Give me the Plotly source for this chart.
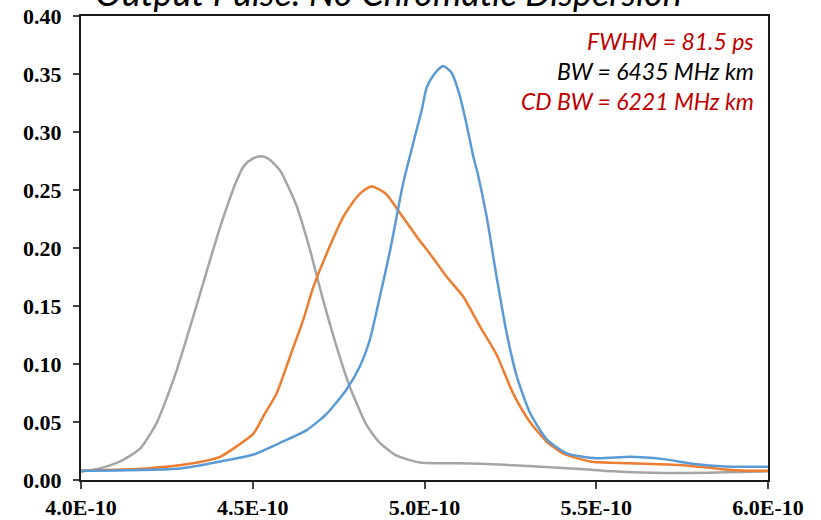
import plotly.graph_objects as go

# time in units of 1e-10 s
gray_t = [4.000, 4.055, 4.114, 4.172, 4.220, 4.250, 4.279, 4.327, 4.356, 4.405, 4.453, 4.475, 4.500, 4.521,
          4.545, 4.579, 4.628, 4.667, 4.705, 4.744, 4.783, 4.832, 4.870, 4.919, 4.987, 5.050, 5.162,
          5.300, 5.453, 5.550, 5.695, 5.850, 6.000]
gray_v = [0.007, 0.010, 0.016, 0.027, 0.049, 0.071, 0.095, 0.141, 0.170, 0.218, 0.258, 0.271, 0.277, 0.279,
          0.277, 0.267, 0.236, 0.198, 0.155, 0.115, 0.080, 0.047, 0.032, 0.021, 0.015, 0.0145, 0.014,
          0.012, 0.0095, 0.0075, 0.006, 0.0065, 0.0075]

orange_t = [4.000, 4.191, 4.317, 4.405, 4.453, 4.502, 4.531, 4.570, 4.608, 4.647, 4.676, 4.715, 4.764,
            4.803, 4.825, 4.845, 4.865, 4.890, 4.929, 4.977, 5.026, 5.065, 5.113, 5.162, 5.210, 5.259,
            5.307, 5.356, 5.404, 5.482, 5.598, 5.744, 5.860, 5.938, 6.000]
orange_v = [0.008, 0.010, 0.014, 0.020, 0.029, 0.040, 0.055, 0.075, 0.106, 0.138, 0.166, 0.195, 0.227,
            0.244, 0.250, 0.253, 0.251, 0.246, 0.230, 0.210, 0.191, 0.175, 0.158, 0.132, 0.108, 0.074,
            0.050, 0.033, 0.023, 0.016, 0.0145, 0.013, 0.0095, 0.008, 0.008]

blue_t = [4.000, 4.288, 4.405, 4.502, 4.579, 4.657, 4.715, 4.773, 4.812, 4.841, 4.870, 4.900, 4.938,
          4.972, 4.992, 5.006, 5.026, 5.054, 5.079, 5.098, 5.113, 5.128, 5.142, 5.155, 5.181, 5.210,
          5.239, 5.268, 5.307, 5.356, 5.414, 5.501, 5.598, 5.695, 5.792, 5.890, 6.000]
blue_v = [0.008, 0.010, 0.016, 0.022, 0.032, 0.043, 0.057, 0.078, 0.098, 0.121, 0.158, 0.198, 0.256,
          0.296, 0.319, 0.338, 0.349, 0.357, 0.351, 0.336, 0.319, 0.299, 0.279, 0.264, 0.227, 0.175,
          0.127, 0.090, 0.058, 0.035, 0.023, 0.0187, 0.020, 0.018, 0.0135, 0.0115, 0.0115]

x_ticks = [4.0e-10, 4.5e-10, 5.0e-10, 5.5e-10, 6.0e-10]
x_labels = ["4.0E-10", "4.5E-10", "5.0E-10", "5.5E-10", "6.0E-10"]
y_ticks = [0.00, 0.05, 0.10, 0.15, 0.20, 0.25, 0.30, 0.35, 0.40]
y_labels = ["0.00", "0.05", "0.10", "0.15", "0.20", "0.25", "0.30", "0.35", "0.40"]

title_text = "Output Pulse: No Chromatic Dispersion"
notes = [("FWHM = 81.5 ps", "#C00000"), ("BW = 6435 MHz km", "#000000"), ("CD BW = 6221 MHz km", "#C00000")]

fig = go.Figure()
for t, v, c in [(gray_t, gray_v, "#A5A5A5"), (orange_t, orange_v, "#ED7D31"), (blue_t, blue_v, "#5B9BD5")]:
    fig.add_trace(go.Scatter(x=[a * 1e-10 for a in t], y=v, mode="lines",
                             line=dict(color=c, width=2.5, shape="spline", smoothing=0.6),
                             showlegend=False, hoverinfo="skip"))

tickfont = dict(family="Liberation Serif", size=22, color="#000000", weight="bold")
fig.update_xaxes(range=[4.0e-10, 6.0e-10], tickvals=x_ticks, ticktext=x_labels, tickfont=tickfont,
                 showgrid=False, zeroline=False, showline=True, linecolor="#1a1a1a", linewidth=2,
                 mirror=True, ticks="outside", ticklen=7, tickwidth=2, tickcolor="#444",
                 automargin=False)
fig.update_yaxes(range=[0, 0.40], tickvals=y_ticks, ticktext=y_labels, tickfont=tickfont,
                 showgrid=False, zeroline=False, showline=True, linecolor="#1a1a1a", linewidth=2,
                 mirror=True, ticks="outside", ticklen=6, tickwidth=2, tickcolor="#444",
                 ticklabelstandoff=7, automargin=False)

annotations = [dict(text=title_text, xref="paper", yref="paper", x=0.4476, y=1.0, yshift=0,
                    xanchor="center", yanchor="bottom", showarrow=False,
                    font=dict(family="Lato", size=36, color="#000000", style="italic"))]
for i, (txt, col) in enumerate(notes):
    annotations.append(dict(text=txt, xref="paper", yref="paper", x=0.982, y=0.946 - i * 0.0647,
                            xanchor="right", yanchor="middle", showarrow=False,
                            font=dict(family="Lato", size=23, color=col, style="italic")))

fig.update_layout(width=821, height=520, margin=dict(l=81, r=53, t=16, b=40),
                  paper_bgcolor="white", plot_bgcolor="white", annotations=annotations)
fig.write_html("out.html")
